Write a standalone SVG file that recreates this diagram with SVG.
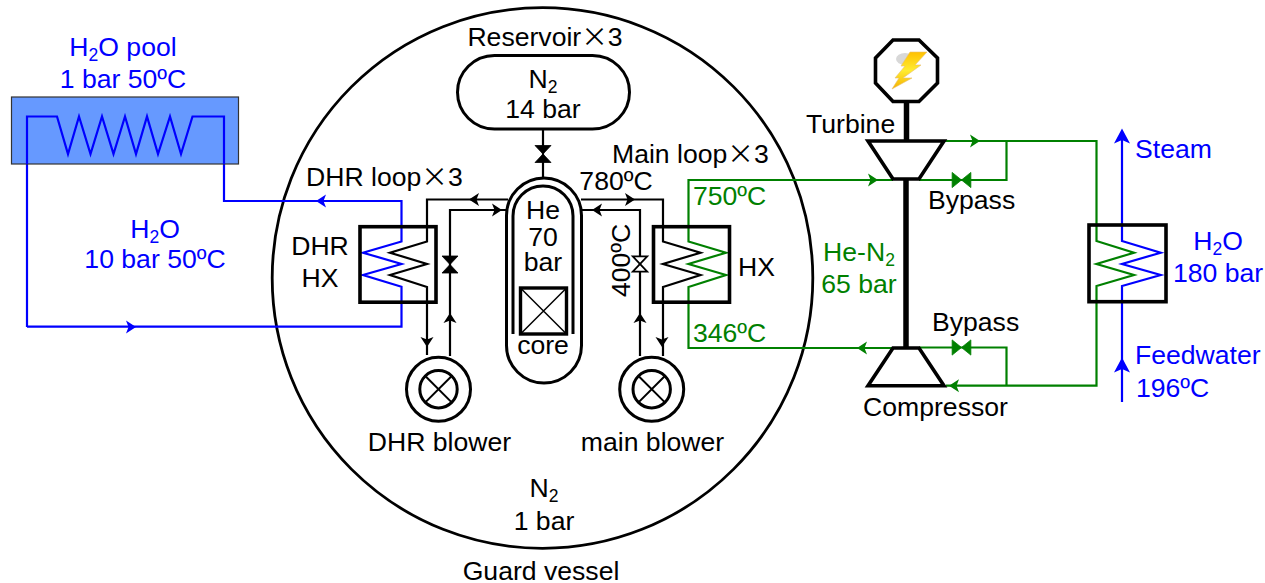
<svg xmlns="http://www.w3.org/2000/svg" width="1265" height="583" viewBox="0 0 1265 583">
<style>
text{font-family:"Liberation Sans",Arial,sans-serif;font-size:26.6px;fill:#000}
.m{text-anchor:middle}
.b{fill:#0000ff}
.g{fill:#008000}
.x{font-family:"Noto Sans CJK JP","Liberation Sans",sans-serif}
.sub{font-size:17.5px}
.k,.kb,.kg{fill:none;stroke-linejoin:miter}
.k{stroke:#000;stroke-width:2.2}
.kb{stroke:#0000ff;stroke-width:2.2}
.kg{stroke:#008000;stroke-width:2.2}
.hx{fill:none;stroke:#000;stroke-width:3.6}
.heavy{fill:none;stroke:#000;stroke-width:3}
.ak{fill:#000}.ab{fill:#0000ff}.ag{fill:#008000}
.vk{fill:#000;stroke:#000;stroke-width:.8}
.vg{fill:#008000;stroke:#008000;stroke-width:.8}
</style>
<defs>
<path id="a" d="M5 0L-5 -6.500L-2.500 0L-5 6.500Z"/>
<path id="A" d="M7.500 0L-7.500 -8L-4 0L-7.500 8Z"/>
<path id="v" d="M-8 -8.500H8L-8 8.500H8Z"/>
<linearGradient id="bolt" x1="0" y1="0" x2="0" y2="1"><stop offset="0" stop-color="#ffc000"/><stop offset="0.5" stop-color="#ffec30"/><stop offset="1" stop-color="#f5b000"/></linearGradient>
</defs>

<g id="guard-vessel">
<circle cx="542.500" cy="278" r="270.300" fill="#fff" stroke="#000" stroke-width="2.800"/>
<text class="m" x="541" y="579.500">Guard vessel</text>
<text class="m" x="544" y="497">N<tspan class="sub" dy="5">2</tspan></text>
<text class="m" x="544" y="530">1 bar</text>
</g>

<g id="connectors">
<path class="kb" d="M27 327V116.500H57L68 154L79 116.500L90.500 154L102 116.500L113.500 154L125 116.500L136 154L147 116.500L158 154L170 116.500L181 154L192.500 116.500H224V201H401.500V241.500L363 252.700L401.500 264L363 275L401.500 286.700V326.700H27"/>
<path class="k" d="M427 355V287L390 275L427 264L390 252.700L427 241.500V199.500H508"/>
<path class="k" d="M450 356V210H506"/>
<path class="k" d="M581 199.500H663V241.500L700.500 252.700L663 264L700.500 275L663 287V356"/>
<path class="k" d="M640 356V210H582"/>
<path class="k" d="M543 129V178"/>
<path class="kg" d="M893 180H688.500V241.500L726 252.700L688.500 264L726 275L688.500 287V348H893"/>
<path class="kg" d="M944 141H1096.500V241L1134 252.700L1096.500 264L1134 275L1096.500 286V385.700H946"/>
<path class="kg" d="M1006.500 141V180H919"/>
<path class="kg" d="M1006.500 385.700V347.500H919"/>
<path class="kb" d="M1122 402V286L1160.700 275L1122 264L1160.700 252.700L1122 241V132"/>
<g class="ab">
<use href="#a" transform="translate(321,201) rotate(180)"/>
<use href="#a" transform="translate(131,327)"/>
<use href="#A" transform="translate(1122,136) rotate(-90)"/>
<use href="#A" transform="translate(1122,365) rotate(-90)"/>
</g>
<g class="ak">
<use href="#a" transform="translate(474,199.500) rotate(180)"/>
<use href="#a" transform="translate(497,210)"/>
<use href="#a" transform="translate(450,318) rotate(-90)"/>
<use href="#a" transform="translate(427,342) rotate(90)"/>
<use href="#a" transform="translate(630,199.500)"/>
<use href="#a" transform="translate(597,210) rotate(180)"/>
<use href="#a" transform="translate(640,318) rotate(-90)"/>
<use href="#a" transform="translate(662,342) rotate(90)"/>
</g>
<g class="ag">
<use href="#a" transform="translate(873,180)"/>
<use href="#a" transform="translate(975,141)"/>
<use href="#a" transform="translate(862,348) rotate(180)"/>
<use href="#a" transform="translate(954,385.700) rotate(180)"/>
</g>
<use href="#v" class="vk" transform="translate(450,264.500)"/>
<use href="#v" class="vk" transform="translate(543,154)"/>
<use href="#v" fill="#fff" stroke="#000" stroke-width="2" transform="translate(640,264) scale(0.9)"/>
<use href="#v" class="vg" transform="translate(961.500,180) rotate(90) scale(0.95,1.1)"/>
<use href="#v" class="vg" transform="translate(961.500,347.500) rotate(90) scale(0.95,1.1)"/>
</g>

<g id="pool">
<rect x="11.500" y="97" width="227" height="67" fill="#6699ff" stroke="#333" stroke-width="1.200"/>
<path class="kb" d="M27 164V116.500H57L68 154L79 116.500L90.500 154L102 116.500L113.500 154L125 116.500L136 154L147 116.500L158 154L170 116.500L181 154L192.500 116.500H224V164"/>
<text class="m b" x="123" y="56">H<tspan class="sub" dy="5">2</tspan><tspan dy="-5">O pool</tspan></text>
<text class="m b" x="123" y="88">1 bar 50ºC</text>
</g>

<g id="pool-loop-label">
<text class="m b" x="155" y="238">H<tspan class="sub" dy="5">2</tspan><tspan dy="-5">O</tspan></text>
<text class="m b" x="155" y="268">10 bar 50ºC</text>
</g>

<g id="reservoir">
<rect x="457.500" y="55.500" width="172" height="73.500" rx="37" fill="#fff" stroke="#000" stroke-width="3"/>
<text class="m" x="545" y="46">Reservoir<tspan class="x">×</tspan>3</text>
<text class="m" x="543" y="88">N<tspan class="sub" dy="5">2</tspan></text>
<text class="m" x="543" y="118">14 bar</text>
</g>

<g id="reactor">
<rect x="506.500" y="178" width="75" height="205" rx="37.500" fill="#fff" stroke="#000" stroke-width="3"/>
<path class="heavy" d="M513 334V216A30 30 0 0 1 573 216V334"/>
<rect x="520.500" y="288" width="46" height="46" fill="none" stroke="#000" stroke-width="3.400"/>
<path d="M520.500 288L566.500 334M566.500 288L520.500 334" fill="none" stroke="#000" stroke-width="1.500"/>
<text class="m" x="543" y="219">He</text>
<text class="m" x="543" y="246">70</text>
<text class="m" x="543" y="271">bar</text>
<text class="m" x="543" y="354">core</text>
</g>

<g id="dhr-hx">
<rect class="hx" x="360" y="226.700" width="76" height="75.500"/>
<text class="m" x="320" y="255">DHR</text>
<text class="m" x="320" y="287">HX</text>
<text x="306" y="186">DHR loop<tspan class="x">×</tspan>3</text>
</g>

<g id="main-hx">
<rect class="hx" x="653.500" y="226.700" width="76" height="75.500"/>
<text x="738" y="276">HX</text>
<text x="612" y="163">Main loop<tspan class="x">×</tspan>3</text>
<text class="m" x="616" y="190">780ºC</text>
<text transform="translate(630,297) rotate(-90)">400ºC</text>
<text class="g" x="693" y="205">750ºC</text>
<text class="g" x="693" y="342">346ºC</text>
</g>

<g id="dhr-blower">
<circle cx="438.500" cy="389.200" r="32" fill="#fff" stroke="#000" stroke-width="3"/>
<circle cx="438.500" cy="389.200" r="18.700" fill="none" stroke="#000" stroke-width="3"/>
<path d="M425.300 376L451.700 402.400M451.700 376L425.300 402.400" stroke="#000" stroke-width="2"/>
<text class="m" x="439.500" y="450.500">DHR blower</text>
</g>

<g id="main-blower">
<circle cx="651.700" cy="389.200" r="32" fill="#fff" stroke="#000" stroke-width="3"/>
<circle cx="651.700" cy="389.200" r="18.700" fill="none" stroke="#000" stroke-width="3"/>
<path d="M638.500 376L664.900 402.400M664.900 376L638.500 402.400" stroke="#000" stroke-width="2"/>
<text class="m" x="652.500" y="450.500">main blower</text>
</g>

<g id="generator">
<path d="M906.500 102V141" stroke="#000" stroke-width="5.500"/>
<path d="M893 40H919L937.500 58V83L919 101.500H893L875.500 83V58Z" fill="#fff" stroke="#000" stroke-width="3.600"/>
<ellipse cx="905" cy="59" rx="9" ry="6" fill="#d8d8d8"/>
<path d="M910 52H927L915 65H921L903 78H912L892 89L899 78H895L905 66H901Z" fill="url(#bolt)" stroke="#e8c070" stroke-width="0.600"/>
</g>

<g id="turbine">
<path d="M868 141H944L919 179H893Z" fill="#fff" stroke="#000" stroke-width="3.600"/>
<path d="M906 180V348" stroke="#000" stroke-width="5.500"/>
<text x="806" y="133">Turbine</text>
<text x="928" y="209">Bypass</text>
<text class="m g" x="859" y="261">He-N<tspan class="sub" dy="5">2</tspan></text>
<text class="m g" x="859" y="293">65 bar</text>
</g>

<g id="compressor">
<path d="M893 348H919L944 385.700H868Z" fill="#fff" stroke="#000" stroke-width="3.600"/>
<text x="932" y="331">Bypass</text>
<text class="m" x="935.500" y="416">Compressor</text>
</g>

<g id="steam-hx">
<rect class="hx" x="1089" y="225" width="77" height="76.700"/>
<text class="b" x="1135" y="158">Steam</text>
<text class="b" x="1135" y="364">Feedwater</text>
<text class="b" x="1136" y="397">196ºC</text>
<text class="m b" x="1218" y="250">H<tspan class="sub" dy="5">2</tspan><tspan dy="-5">O</tspan></text>
<text class="m b" x="1218" y="282">180 bar</text>
</g>
</svg>
